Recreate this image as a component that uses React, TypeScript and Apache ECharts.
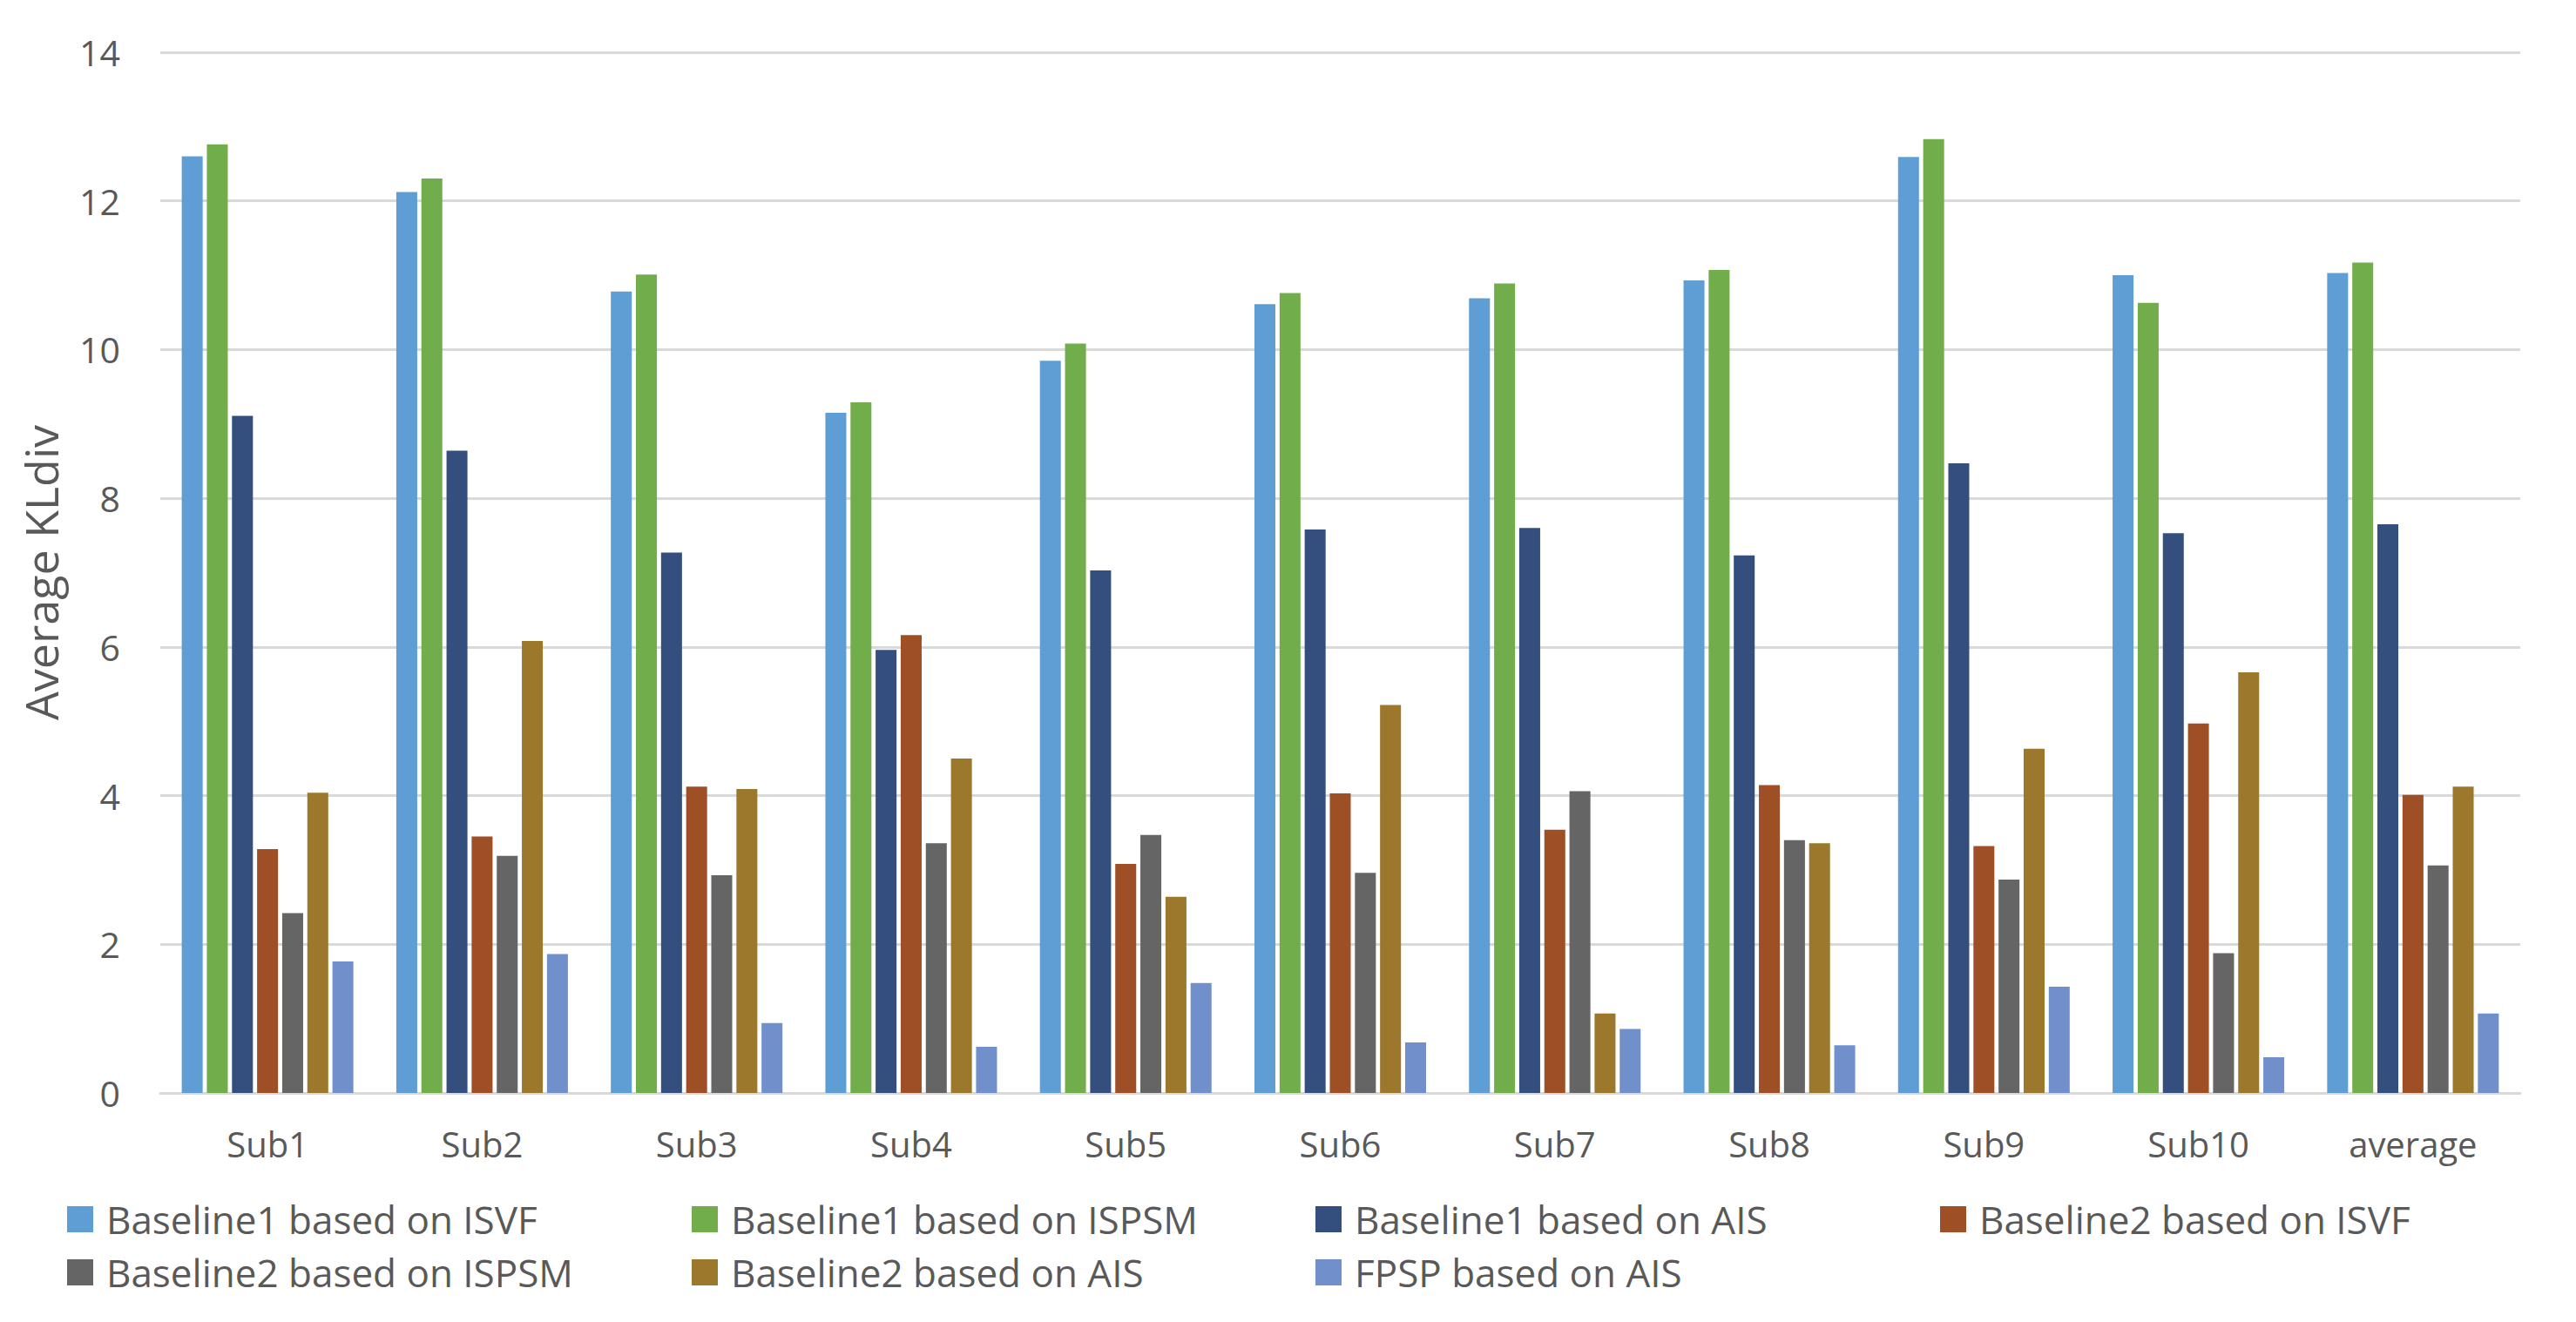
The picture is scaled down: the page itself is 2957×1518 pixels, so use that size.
import React, { useEffect, useRef } from "react";
import * as echarts from "echarts";

const categories = ["Sub1", "Sub2", "Sub3", "Sub4", "Sub5", "Sub6", "Sub7", "Sub8", "Sub9", "Sub10", "average"];
const seriesNames = [
  "Baseline1 based on ISVF",
  "Baseline1 based on ISPSM",
  "Baseline1 based on AIS",
  "Baseline2 based on ISVF",
  "Baseline2 based on ISPSM",
  "Baseline2 based on AIS",
  "FPSP based on AIS",
];
const b1Isvf = [12.6, 12.12, 10.78, 9.15, 9.85, 10.61, 10.69, 10.93, 12.59, 11.0, 11.03];
const b1Ispsm = [12.76, 12.3, 11.01, 9.29, 10.08, 10.76, 10.89, 11.07, 12.83, 10.63, 11.17];
const b1Ais = [9.11, 8.64, 7.27, 5.96, 7.03, 7.58, 7.6, 7.23, 8.47, 7.53, 7.65];
const b2Isvf = [3.28, 3.45, 4.12, 6.16, 3.08, 4.03, 3.54, 4.14, 3.32, 4.97, 4.01];
const b2Ispsm = [2.42, 3.19, 2.93, 3.36, 3.47, 2.96, 4.06, 3.4, 2.87, 1.88, 3.06];
const b2Ais = [4.04, 6.08, 4.09, 4.5, 2.64, 5.22, 1.07, 3.36, 4.63, 5.66, 4.12];
const fpspAis = [1.77, 1.87, 0.94, 0.62, 1.48, 0.68, 0.86, 0.64, 1.43, 0.48, 1.07];
const yTicks = { min: 0, max: 14, interval: 2 };

const seriesData = [b1Isvf, b1Ispsm, b1Ais, b2Isvf, b2Ispsm, b2Ais, fpspAis];
const colors = ["#5F9ED5", "#72AD4C", "#344F7E", "#9F4F26", "#656565", "#9C782D", "#7190CB"];

const FONT = "'Open Sans', 'Noto Sans', sans-serif";
const TEXT = "#595959";

export default function App() {
  const ref = useRef<HTMLDivElement>(null);
  useEffect(() => {
    if (!ref.current) return;
    const chart = echarts.init(ref.current, null, { renderer: "svg" });
    const legendPos = [
      [77, 1378], [794, 1378], [1510, 1378], [2227, 1378],
      [77, 1439], [794, 1439], [1510, 1439],
    ];
    chart.setOption({
      animation: false,
      backgroundColor: "#ffffff",
      color: colors,
      textStyle: { fontFamily: FONT },
      grid: { left: 184, right: 64, top: 60, bottom: 263, containLabel: false },
      legend: seriesNames.map((n, i) => ({
        data: [n],
        left: legendPos[i][0],
        top: legendPos[i][1],
        padding: 0,
        icon: "rect",
        itemWidth: 30,
        itemHeight: 30,
        selectedMode: false,
        textStyle: {
          fontFamily: FONT,
          fontSize: 44,
          color: TEXT,
          lineHeight: 30,
          padding: [0, 0, 0, 10],
        },
      })),
      xAxis: {
        type: "category",
        data: categories,
        axisLine: { lineStyle: { color: "#D9D9D9", width: 3 } },
        axisTick: { show: false },
        axisLabel: { fontSize: 40, color: TEXT, margin: 38, fontFamily: FONT },
      },
      yAxis: {
        type: "value",
        min: yTicks.min,
        max: yTicks.max,
        interval: yTicks.interval,
        name: "Average KLdiv",
        nameLocation: "middle",
        nameGap: 112,
        nameTextStyle: { fontSize: 52, color: TEXT, fontFamily: FONT },
        axisLine: { show: false },
        axisTick: { show: false },
        axisLabel: { fontSize: 41, color: TEXT, margin: 46, fontFamily: FONT },
        splitLine: { lineStyle: { color: "#D9D9D9", width: 3 } },
      },
      series: seriesNames.map((n, i) => ({
        name: n,
        type: "bar",
        data: seriesData[i],
        barGap: "20%",
        barCategoryGap: "20%",
        itemStyle: { color: colors[i] },
      })),
    });
    return () => chart.dispose();
  }, []);
  return (
    <div
      ref={ref}
      style={{ position: "absolute", left: 0, top: 0, width: 2957, height: 1518, background: "#fff" }}
    />
  );
}
